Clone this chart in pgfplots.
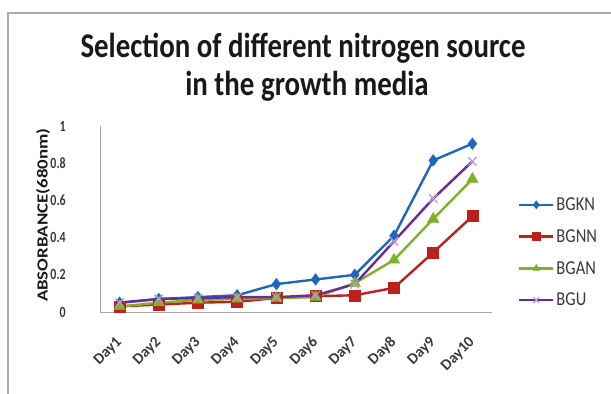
\documentclass[border=0pt]{standalone}
\usepackage{fontspec}
\setmainfont{Carlito}
\usepackage{graphicx}
\usepackage{pgfplots}
\pgfplotsset{compat=1.18}
\definecolor{cBGKN}{HTML}{1F66C1}
\definecolor{cBGNN}{HTML}{C0201C}
\definecolor{cBGAN}{HTML}{7DB22A}
\definecolor{cBGU}{HTML}{6A2A9E}
\definecolor{cBGUmark}{HTML}{B49AD6}
\definecolor{txt}{HTML}{3A3A3A}
% taller-than-wide lettering
\newcommand{\tall}[2][1.3]{\scalebox{1}[#1]{#2}}
\begin{document}
\begin{tikzpicture}[x=1bp,y=1bp]
\useasboundingbox (0,0) rectangle (611,393);
% chart area frame
\draw[gray!65, line width=1.2bp] (8,-10) -- (8,380) -- (640,380);
\node[font=\bfseries\fontsize{29}{34}\selectfont, text=black!90, anchor=base, inner sep=0pt] at (303,336)
  {\tall[1.2]{Selection of different nitrogen source}};
\node[font=\bfseries\fontsize{29}{34}\selectfont, text=black!90, anchor=base, inner sep=0pt] at (307,298)
  {\tall[1.2]{in the growth media}};
\begin{axis}[
  at={(100bp,81bp)}, anchor=south west,
  scale only axis, width=392bp, height=186bp,
  xmin=0.5, xmax=10.5, ymin=0, ymax=1,
  axis x line*=bottom, axis y line*=left,
  axis line style={-, gray!70, line width=0.8bp},
  xtick={1,...,10},
  xticklabels={Day1,Day2,Day3,Day4,Day5,Day6,Day7,Day8,Day9,Day10},
  ytick={0,0.2,0.4,0.6,0.8,1},
  yticklabels={\tall{0},\tall{0.2},\tall{0.4},\tall{0.6},\tall{0.8},\tall{1}},
  major tick length=0pt,
  tick label style={text=txt},
  y tick label style={font=\bfseries\fontsize{12}{13}\selectfont, inner sep=0pt, anchor=east, xshift=-34bp},
  x tick label style={font=\bfseries\fontsize{15.5}{17}\selectfont, inner sep=0pt,
    yshift=-28bp, rotate=45, anchor=east},
  ylabel={\scalebox{1.22}[1]{ABSORBANCE(680nm)}},
  ylabel style={at={(axis description cs:-0.145,0.52)}, anchor=center,
    font=\bfseries\fontsize{15.5}{17}\selectfont, text=black!90},
  legend style={at={(1.066,0.32)}, anchor=west, draw=none, fill=none,
    font=\fontsize{16.5}{18}\selectfont, text=txt, row sep=13.5bp, inner sep=0pt,
    cells={anchor=west}},
  legend image code/.code={\draw[mark repeat=2, mark phase=2, mark size=4bp]
    plot coordinates {(0bp,0bp) (17bp,0bp) (34bp,0bp)};},
  every axis plot/.append style={line width=2.4bp},
]
\addplot[cBGKN, mark=diamond*, mark size=5.8bp, mark options={fill=cBGKN, line width=0.5bp}]
  coordinates {(1,0.05) (2,0.07) (3,0.08) (4,0.09) (5,0.15) (6,0.175) (7,0.20) (8,0.41) (9,0.815) (10,0.905)};
\addlegendentry{\tall[1.2]{BGKN}}
\addplot[cBGNN, mark=square*, mark size=5.5bp, mark options={fill=cBGNN, line width=0.5bp}]
  coordinates {(1,0.03) (2,0.04) (3,0.05) (4,0.055) (5,0.075) (6,0.085) (7,0.09) (8,0.13) (9,0.32) (10,0.515)};
\addlegendentry{\tall[1.2]{BGNN}}
\addplot[cBGAN, mark=triangle*, mark size=6.5bp, mark options={fill=cBGAN, line width=0.5bp}]
  coordinates {(1,0.03) (2,0.05) (3,0.065) (4,0.07) (5,0.075) (6,0.08) (7,0.155) (8,0.28) (9,0.50) (10,0.715)};
\addlegendentry{\tall[1.2]{BGAN}}
\addplot[cBGU, mark=x, mark size=6bp, mark options={draw=cBGUmark, line width=1.2bp}]
  coordinates {(1,0.05) (2,0.07) (3,0.075) (4,0.08) (5,0.08) (6,0.09) (7,0.15) (8,0.38) (9,0.61) (10,0.81)};
\addlegendentry{\tall[1.2]{BGU}}
\end{axis}
\end{tikzpicture}
\end{document}
